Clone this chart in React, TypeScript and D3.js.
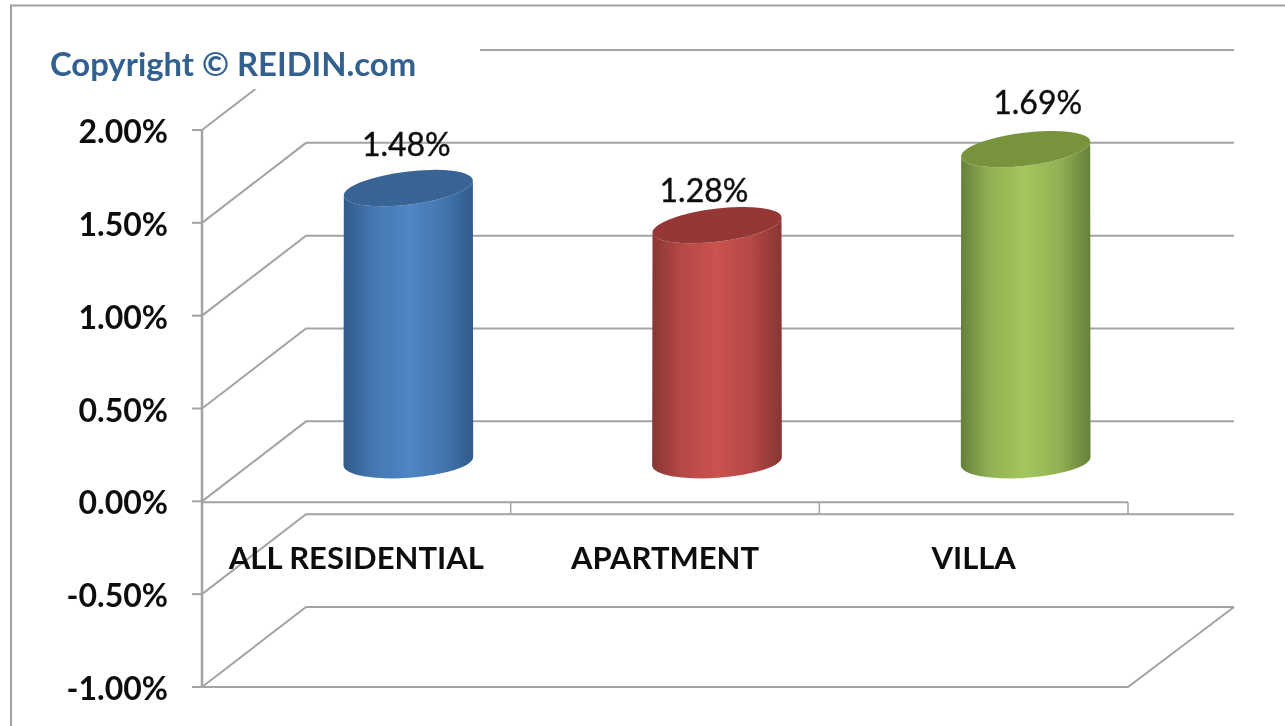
import React from "react";
import * as d3 from "d3";

const categories = ["ALL RESIDENTIAL", "APARTMENT", "VILLA"];
const seriesValues = [1.48, 1.28, 1.69];
const valueLabels = ["1.48%", "1.28%", "1.69%"];
const tickValues = [2, 1.5, 1, 0.5, 0, -0.5, -1];
const tickLabels = ["2.00%", "1.50%", "1.00%", "0.50%", "0.00%", "-0.50%", "-1.00%"];
const barMain = ["#4f86c6", "#cb524f", "#a3c75e"];
const barMid = ["#4476b0", "#b54845", "#91b153"];
const barEdge = ["#2f5a8b", "#873634", "#65803a"];
const barTop = ["#386395", "#953836", "#77943d"];

const W = 1285, H = 726;
const FONT = "Lato, 'Open Sans', sans-serif";
const GRID = "#a3a3a3";
const depthX = 104, depthY = -80;

const y = d3.scaleLinear().domain([-1, 2]).range([687, 130]);
const x = d3.scaleBand<string>().domain(categories).range([202, 1128]);
const line = d3.line<[number, number]>();

function cylinderPaths(cx: number, topY: number, baseY: number) {
  const rx = 65, ry = 16.5;
  const topTilt = (-7 * Math.PI) / 180, baseTilt = (-4 * Math.PI) / 180;
  const tx = rx * Math.cos(topTilt), ty = rx * Math.sin(topTilt);
  const bx = rx * Math.cos(baseTilt), by = rx * Math.sin(baseTilt);
  const aTop = `A${rx} ${ry} -7`;
  const aBase = `A${rx} ${ry} -4`;
  const body = `M${cx - tx} ${topY - ty}L${cx - bx} ${baseY - by}${aBase} 0 0 ${cx + bx} ${baseY + by}L${cx + tx} ${topY + ty}${aTop} 0 1 ${cx - tx} ${topY - ty}Z`;
  const top = `M${cx - tx} ${topY - ty}${aTop} 0 1 ${cx + tx} ${topY + ty}${aTop} 0 1 ${cx - tx} ${topY - ty}Z`;
  return { body, top };
}

const labelShift: [number, number][] = [[-2, -32], [-13, -23], [12, -35]];

export default function App() {
  const band = x.bandwidth();
  const y0 = y(0);
  return (
    <svg width={W} height={H} viewBox={`0 0 ${W} ${H}`} style={{ position: "absolute", left: 0, top: 0, background: "#fff" }}>
      <defs>
        {categories.map((c, i) => (
          <linearGradient key={c} id={`bar${i}`} x1="0" x2="1" y1="0" y2="0">
            <stop offset="0" stopColor={barEdge[i]} />
            <stop offset="0.22" stopColor={barMid[i]} />
            <stop offset="0.5" stopColor={barMain[i]} />
            <stop offset="0.76" stopColor={barMid[i]} />
            <stop offset="1" stopColor={barEdge[i]} />
          </linearGradient>
        ))}
        <filter id="soft" filterUnits="userSpaceOnUse" x="0" y="0" width={W} height={H}>
          <feGaussianBlur stdDeviation="0.7" />
        </filter>
      </defs>
      <g filter="url(#soft)">
        <rect x={0} y={0} width={W} height={H} fill="#fff" />
        <path d={`M11 ${H}V5.5H${W}`} fill="none" stroke="#a0a0a0" strokeWidth={2} />

        {tickValues.map((t) => (
          <g key={t} fill="none" stroke={GRID} strokeWidth={2}>
            <path d={line([[202, y(t)], [202 + depthX, y(t) + depthY], [202 + depthX + 928, y(t) + depthY]])!} />
            <path d={line([[192, y(t)], [202, y(t)]])!} />
          </g>
        ))}
        <path d={line([[202, y(2)], [202, y(-1)]])!} fill="none" stroke={GRID} strokeWidth={2.5} />
        <path d={line([[202, y0 + 1], [1128, y0 + 1]])!} fill="none" stroke={GRID} strokeWidth={2} />
        <path d={line([[202, y(-1)], [1128, y(-1)], [1234, y(-1) + depthY]])!} fill="none" stroke={GRID} strokeWidth={2} />
        {[1, 2, 3].map((i) => {
          const px = 202 + band * i;
          return <path key={i} d={line([[px, y0 + 1], [px, y(-0.5) + depthY]])!} fill="none" stroke={GRID} strokeWidth={1.5} />;
        })}

        <rect x={36} y={30} width={444} height={59} fill="#fff" />
        <text x={50} y={76} fontFamily={FONT} fontWeight={700} fontSize={32.8} fill="#33608f">Copyright © REIDIN.com</text>

        {categories.map((c, i) => {
          const cx = x(c)! + band / 2 + depthX / 2;
          const baseY = y0 + depthY / 2;
          const topY = y(seriesValues[i]) + depthY / 2 + 1.5;
          const { body, top } = cylinderPaths(cx, topY, baseY);
          return (
            <g key={c}>
              <path d={body} fill={`url(#bar${i})`} />
              <path d={top} fill={barTop[i]} />
              <text x={cx + labelShift[i][0]} y={topY + labelShift[i][1]} textAnchor="middle" fontFamily={FONT} fontSize={32} fill="#111" stroke="#111" strokeWidth={0.4}>{valueLabels[i]}</text>
              <text x={x(c)! + band / 2} y={569} textAnchor="middle" fontFamily={FONT} fontWeight={700} fontSize={31} fill="#111">{c}</text>
            </g>
          );
        })}

        {tickValues.map((t, i) => (
          <text key={t} x={168} y={y(t) + 13} textAnchor="end" fontFamily={FONT} fontWeight={700} fontSize={32} fill="#111">
            {tickLabels[i]}
          </text>
        ))}
      </g>
    </svg>
  );
}
